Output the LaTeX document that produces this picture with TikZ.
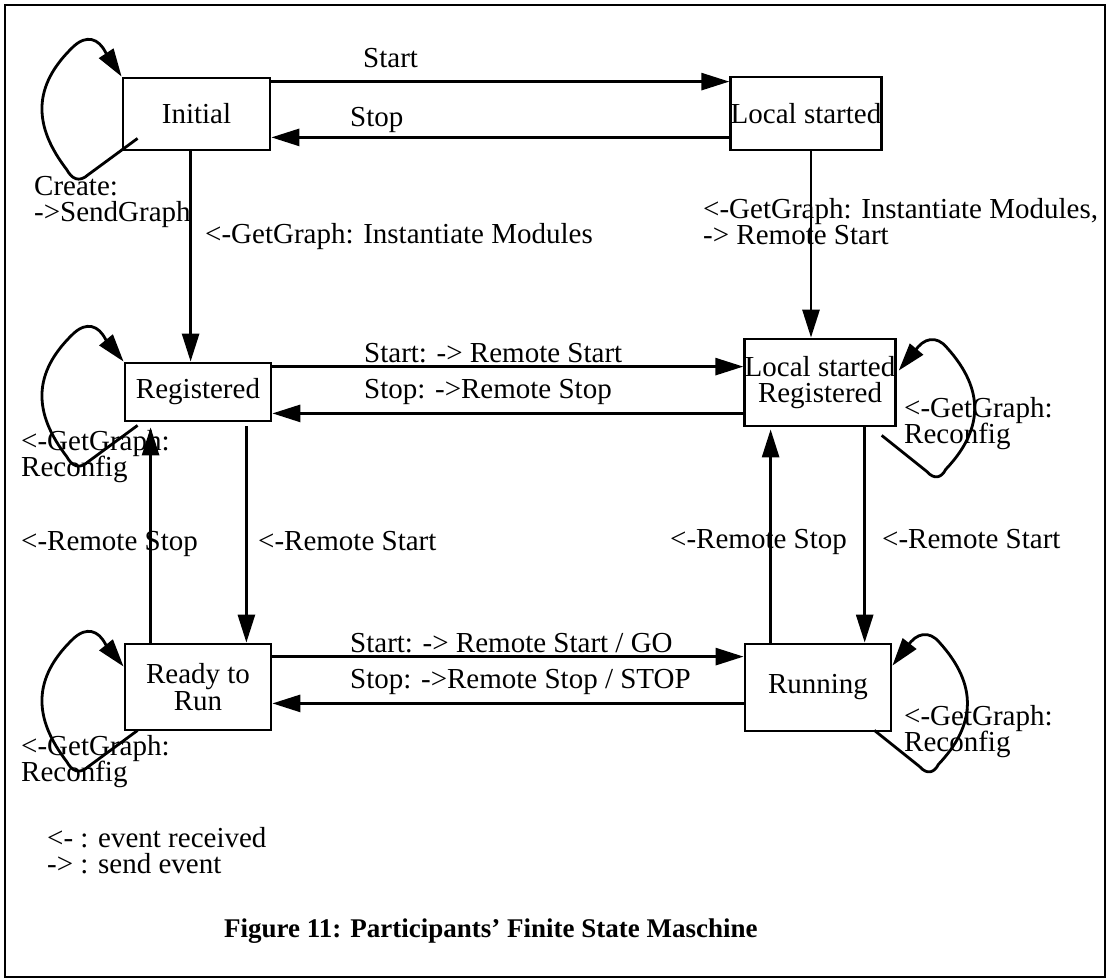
\documentclass[tikz,border=0pt]{standalone}
\usepackage{fontspec}
\setmainfont{Liberation Serif}
\usetikzlibrary{arrows.meta,calc}

% two-line label, baseline at the first line
\newcommand\twolines[2]{\vtop{\lineskiplimit=-20pt\hbox{#1}\hbox{#2}}}

% self loop on the left of a state: start point, arrow tip
\newcommand\leftloop[2]{%
  \draw[arr] (#1) -- ($(#1)+(-49,36)$)
    .. controls ($(#1)+(-59,45)$) and ($(#1)+(-66,40)$) .. ($(#1)+(-71,31)$)
    .. controls ($(#1)+(-104,-12)$) and ($(#1)+(-106,-52)$) .. ($(#1)+(-64,-92)$)
    .. controls ($(#1)+(-51,-104)$) and ($(#1)+(-39,-100)$) .. ($(#1)+(-32,-86)$)
    -- (#2);}

% self loop on the right of a state: start point, arrow tip
\newcommand\rightloop[2]{%
  \draw[arr] (#1) -- ($(#1)+(45,36)$)
    .. controls ($(#1)+(53,45)$) and ($(#1)+(60,42)$) .. ($(#1)+(64,34)$)
    .. controls ($(#1)+(101,-5)$) and ($(#1)+(104,-45)$) .. ($(#1)+(65,-88)$)
    .. controls ($(#1)+(55,-100)$) and ($(#1)+(42,-98)$) .. ($(#1)+(33,-84)$)
    -- (#2);}

\begin{document}
\begin{tikzpicture}[x=1pt,y=-1pt,
  txt/.style={font=\fontsize{29}{26.7}\selectfont},
  lbl/.style={txt, inner sep=0pt, anchor=base west},
  state/.style={txt, draw, line width=2.8pt, inner sep=0pt, align=center},
  arr/.style={line width=2.8pt, -{Triangle[length=28pt,width=17pt]}},
  frame/.style={draw, line width=1.7pt}
]
\useasboundingbox (0,0) rectangle (1107,979);
\draw[frame] (5,5) rectangle (1105,977);

% states
\node[state, minimum width=147pt, minimum height=72pt] (init)  at (196.5,114)  {Initial};
\node[state, minimum width=148pt, minimum height=73pt] (ls)    at (806,113.5)  {Local started};
\node[state, minimum width=146pt, minimum height=58pt] (reg)   at (198,392)    {Registered};
\node[state, minimum width=150pt, minimum height=87pt] (lsr)   at (820,382.5)  {Local started\\Registered};
\node[state, minimum width=146pt, minimum height=86pt] (ready) at (198,687)    {Ready to\\Run};
\node[state, minimum width=146pt, minimum height=87pt] (run)   at (818,687.5)  {Running};

% attachment points of the transitions
\coordinate (a1)  at ([shift={(0,5)}]init.north east);
\coordinate (a2)  at ([shift={(0,-14)}]ls.south west);
\coordinate (a3)  at ([shift={(69,0)}]init.south west);
\coordinate (a4)  at ([shift={(5,0)}]ls.south);
\coordinate (a5)  at ([shift={(0,5)}]reg.north east);
\coordinate (a6)  at ([shift={(0,-9)}]reg.south east);
\coordinate (a7)  at ([shift={(-26,4)}]reg.south east);
\coordinate (a8)  at ([shift={(27,0)}]ready.north west);
\coordinate (a9)  at ([shift={(0,14)}]ready.north east);
\coordinate (a10) at ([shift={(0,-29)}]run.south west);
\coordinate (a11) at ([shift={(27,0)}]run.north west);
\coordinate (a12) at ([shift={(-32,0)}]lsr.south east);

% transitions
\draw[arr] (a1) -- (a1 -| ls.west);
\draw[arr] (a2) -- (a2 -| init.east);
\draw[arr] (a3) -- (a3 |- reg.north);
\draw[arr] (a4) -- (a4 |- lsr.north);
\draw[arr] (a5) -- (a5 -| lsr.west);
\draw[arr] (a6 -| lsr.west) -- (a6);
\draw[arr] (a7) -- (a7 |- ready.north);
\draw[arr] (a8) -- ($(a8 |- reg.south)+(0,5)$);
\draw[arr] (a9) -- (a9 -| run.west);
\draw[arr] (a10) -- (a10 -| ready.east);
\draw[arr] (a11) -- ($(a11 |- lsr.south)+(0,2)$);
\draw[arr] (a12) -- (a12 |- run.north);

% self loops
\coordinate (s1) at ([shift={(16,-13)}]init.south west);
\coordinate (s2) at ([shift={(14,3)}]reg.south west);
\coordinate (s3) at ([shift={(14,-1)}]ready.south west);
\coordinate (t3) at ([shift={(0,24)}]ready.north west);
\coordinate (s4) at ([shift={(-15,8)}]lsr.south east);
\coordinate (t4) at ([shift={(2,33)}]lsr.north east);
\coordinate (s5) at ([shift={(-18,-2)}]run.south east);
\coordinate (t5) at ([shift={(0,23)}]run.north east);
\leftloop{s1}{init.north west}
\leftloop{s2}{reg.north west}
\leftloop{s3}{t3}
\rightloop{s4}{t4}
\rightloop{s5}{t5}

% transition labels
\node[lbl] (lStart)  at (363,68)  {Start};
\node[lbl] (lStop)   at (350,127) {Stop};
\node[lbl] (lInst)   at (205,243) {<-GetGraph: Instantiate Modules};
\node[lbl] (lInstR)  at (703,218) {\twolines{<-GetGraph: Instantiate Modules,}{-> Remote Start}};
\node[lbl] (lRegGo)  at (364,362) {Start: -> Remote Start};
\node[lbl] (lRegSt)  at (364,398) {Stop: ->Remote Stop};
\node[lbl] (lStopL)  at (21,550)  {<-Remote Stop};
\node[lbl] (lStartL) at (258,550) {<-Remote Start};
\node[lbl] (lStopR)  at (670,548) {<-Remote Stop};
\node[lbl] (lStartR) at (882,548) {<-Remote Start};
\node[lbl] (lRunGo)  at (350,652) {Start: -> Remote Start / GO};
\node[lbl] (lRunSt)  at (350,688) {Stop: ->Remote Stop / STOP};

% self-loop labels
\node[lbl] (cInit)  at (34,195)  {\twolines{Create:}{->SendGraph}};
\node[lbl] (cReg)   at (21,450)  {\twolines{<-GetGraph:}{Reconfig}};
\node[lbl] (cReady) at (21,755)  {\twolines{<-GetGraph:}{Reconfig}};
\node[lbl] (cLsr)   at (904,417) {\twolines{<-GetGraph:}{Reconfig}};
\node[lbl] (cRun)   at (904,725) {\twolines{<-GetGraph:}{Reconfig}};

% legend and caption
\node[lbl] (legend) at (47,847) {\twolines{<- : event received}{-> : send event}};
\node[lbl, font=\fontsize{27}{30}\selectfont\bfseries] (caption) at (224,937)
  {Figure 11: Participants’ Finite State Maschine};
\end{tikzpicture}
\end{document}
